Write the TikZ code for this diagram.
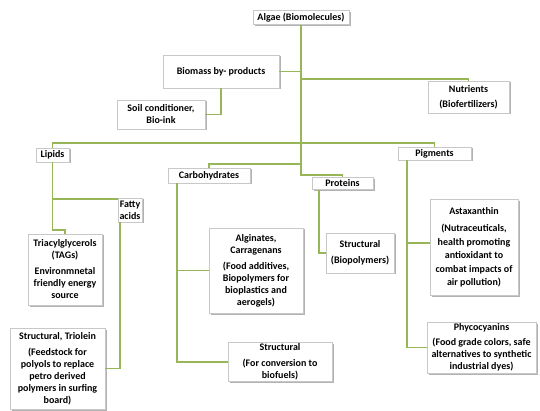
\documentclass[tikz,border=0pt]{standalone}
\usepackage{fontspec}
\setmainfont{Carlito}
\usetikzlibrary{shadows,calc}
\definecolor{lineg}{RGB}{150,182,88}
\definecolor{boxb}{RGB}{200,200,200}
\begin{document}
\begin{tikzpicture}[x=1pt,y=-1pt,
  box/.style={draw=boxb, line width=0.6pt, fill=white, align=center,
    font=\bfseries\fontsize{10}{12}\selectfont, inner sep=1pt,
    drop shadow={shadow xshift=1.5pt, shadow yshift=-1.5pt, fill=black, opacity=0.3}},
  conn/.style={draw=lineg, line width=1.7pt}]
\useasboundingbox (0,0) rectangle (540,411);

% nodes
\node[box, minimum width=96pt, minimum height=14pt] (algae) at (301,17.5) {Algae (Biomolecules)};
\node[box, minimum width=116pt, minimum height=33pt] (biomass) at (221,71.5) {Biomass by- products};
\node[box, minimum width=88pt, minimum height=29pt] (soil) at (161,114.5) {Soil conditioner,\\Bio-ink};
\node[box, minimum width=81pt, minimum height=32pt] (nutrients) at (468.5,97) {Nutrients\\[3pt](Biofertilizers)};
\node[box, minimum width=33pt, minimum height=14pt] (lipids) at (52.5,155) {Lipids};
\node[box, minimum width=82pt, minimum height=15pt] (carbs) at (209,175.5) {Carbohydrates};
\node[box, minimum width=61pt, minimum height=12pt] (proteins) at (342.5,183.5) {Proteins};
\node[box, minimum width=73pt, minimum height=13pt] (pigments) at (434.5,153.5) {Pigments};
\node[box, minimum width=24pt, minimum height=24pt] (fatty) at (130,210) {Fatty\\acids};
\node[box, minimum width=74pt, minimum height=71pt] (tag) at (65,269.5) {Triacylglycerols\\(TAGs)\\[4pt]Environmnetal\\friendly energy\\source};
\node[box, minimum width=95pt, minimum height=81pt] (triolein) at (57.5,368.5) {Structural, Triolein\\[4pt](Feedstock for\\polyols to replace\\petro derived\\polymers in surfing\\board)};
\node[box, minimum width=94pt, minimum height=85pt] (alginates) at (256,270.5) {Alginates,\\Carragenans\\[4pt](Food additives,\\Biopolymers for\\bioplastics and\\aerogels)};
\node[box, minimum width=104pt, minimum height=38pt] (structc) at (280,362) {Structural\\[4pt](For conversion to\\biofuels)};
\node[box, minimum width=68pt, minimum height=40pt] (structp) at (360,253) {Structural\\[4pt](Biopolymers)};
\node[box, minimum width=88pt, minimum height=96pt, font=\bfseries\fontsize{10}{13.5}\selectfont] (astax) at (474,247.5) {Astaxanthin\\[4pt](Nutraceuticals,\\health promoting\\antioxidant to\\combat impacts of\\air pollution)};
\node[box, minimum width=109pt, minimum height=51pt] (phyco) at (481.5,347.5) {Phycocyanins\\[3pt](Food grade colors, safe\\alternatives to synthetic\\industrial dyes)};

% connectors
\draw[conn] (algae.south) -- (algae.south |- 0,175) -| (proteins.north);
\draw[conn] (biomass.east) -- (biomass.east -| algae.south);
\draw[conn] (biomass.south) |- (soil.east);
\draw[conn] (algae.south |- 0,79) -| (nutrients.north);
\draw[conn] (lipids.north) |- (algae.south |- 0,143) -| (pigments.north);
\draw[conn] (algae.south |- 0,164) -| (carbs.north);
\draw[conn] (lipids.south) -- (lipids.south |- 0,230) -| (tag.north);
\draw[conn] (lipids.south |- 0,199) -- (fatty.west |- 0,199);
\draw[conn] ($(fatty.south west)+(2,0)$) |- (triolein.east);
\coordinate (cv) at ($(carbs.south west)+(9,0)$);
\draw[conn] (cv) |- (structc.west);
\draw[conn] (cv |- alginates.west) -- (alginates.west);
\draw[conn] ($(proteins.south west)+(7,0)$) |- (structp.west);
\coordinate (pv) at ($(pigments.south west)+(9,0)$);
\draw[conn] (pv) |- (phyco.west);
\draw[conn] (pv |- 0,243) -- (astax.west |- 0,243);
\end{tikzpicture}
\end{document}
